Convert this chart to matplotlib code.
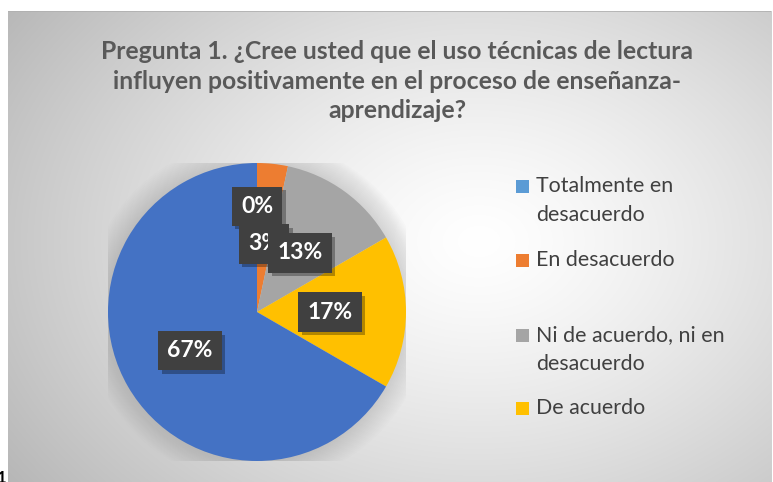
import numpy as np
import matplotlib
matplotlib.use("Agg")
import matplotlib.pyplot as plt
from matplotlib.patches import Rectangle, Circle
import matplotlib.patheffects as pe

# survey counts per answer (30 respondents)
categories = ["Totalmente en desacuerdo", "En desacuerdo",
              "Ni de acuerdo, ni en desacuerdo", "De acuerdo",
              "Totalmente de acuerdo"]
counts = [0, 1, 4, 5, 20]
colors = ["#5B9BD5", "#ED7D31", "#A5A5A5", "#FFC000", "#4472C4"]
legend_labels = ["Totalmente en\ndesacuerdo", "En desacuerdo",
                 "Ni de acuerdo, ni en\ndesacuerdo", "De acuerdo"]
# radial position of each data label (fraction of radius)
label_r = [0.71, 0.46, 0.49, 0.49, 0.52]

title = ("Pregunta 1. ¿Cree usted que el uso técnicas de lectura\n"
         "influyen positivamente en el proceso de enseñanza-\n"
         "aprendizaje?")

plt.rcParams['font.family'] = ['Lato', 'DejaVu Sans']

W, H = 773, 482
fig = plt.figure(figsize=(W / 100, H / 100), dpi=100)

# chart area background with soft radial gradient
bg = fig.add_axes([8 / W, 0, 763 / W, 471 / H], zorder=-10)
yy, xx = np.mgrid[0:471, 0:763]
d = np.sqrt(((xx - 470) / 520.0) ** 2 + ((yy - 230) / 380.0) ** 2)
g = 1.0 - 0.25 * np.clip(d, 0, 1.2) ** 1.3
bg.imshow(np.dstack([g, g, g]), aspect='auto', extent=[0, 1, 0, 1])
bg.plot([0, 1], [1, 1], color="#b0b0b0", lw=1.2)
bg.set_xlim(0, 1)
bg.set_ylim(0, 1)
bg.axis('off')

# pie
cx, cy, R = 257, 312, 149
ax = fig.add_axes([(cx - R) / W, (H - cy - R) / H, 2 * R / W, 2 * R / H])
ax.axis('off')

# soft halo behind the pie
for i in range(14):
    ax.add_patch(Circle((0, 0), 1.0 + 0.011 * (14 - i), color="#909090",
                        alpha=0.022, lw=0, zorder=0))

wedges, _ = ax.pie(counts, colors=colors, startangle=90, counterclock=False,
                   radius=1.0, wedgeprops=dict(linewidth=0), frame=False)
for w in wedges:
    w.set_zorder(2)
ax.set_xlim(-1, 1)
ax.set_ylim(-1, 1)

total = sum(counts)
for w, c, r in zip(wedges, counts, label_r):
    ang = np.deg2rad((w.theta1 + w.theta2) / 2)
    x, y = r * np.cos(ang), r * np.sin(ang)
    t = ax.text(x, y, "%.0f%%" % (100.0 * c / total), ha='center', va='center',
                fontsize=16.5, fontweight='bold', color='white', zorder=4,
                bbox=dict(boxstyle='square,pad=0.4', fc="#404040", ec='none'))
    t.get_bbox_patch().set_path_effects(
        [pe.SimplePatchShadow(offset=(2.5, -2.5), shadow_rgbFace='black', alpha=0.3),
         pe.Normal()])

# title
fig.text(397 / W, 1 - 81 / H, title, ha='center', va='center',
         fontsize=17.8, fontweight='bold', color="#595959", linespacing=1.32)

# legend (manual to follow the reference spacing)
leg_y = [186, 260, 335, 408]
for lab, col, y in zip(legend_labels, colors, leg_y):
    fig.patches.append(Rectangle((516 / W, 1 - (y + 6.5) / H), 13 / W, 13 / H,
                                 transform=fig.transFigure, fc=col, ec='none'))
    fig.text(536 / W, 1 - (y - 10) / H, lab, ha='left', va='top',
             fontsize=15.4, color="#404040", linespacing=1.58)

# stray page-number glyph at the bottom-left corner
fig.text(-0.004, -0.008, "1", ha='left', va='bottom', fontsize=12,
         fontweight='bold', color='black')

fig.savefig("out.png", dpi=100)
